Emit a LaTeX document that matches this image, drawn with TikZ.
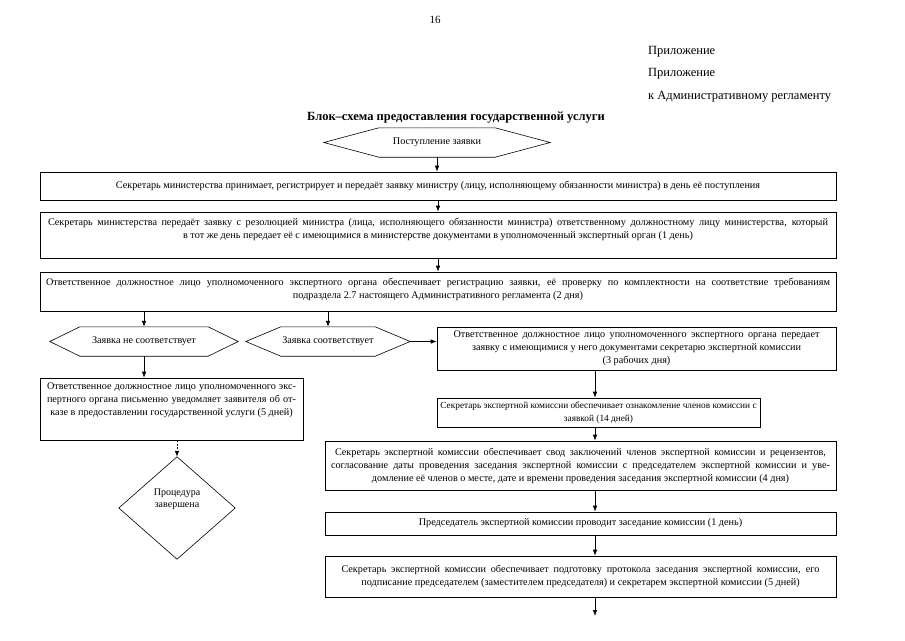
\documentclass[tikz,border=0pt]{standalone}
\usepackage{fontspec}
\setmainfont{Liberation Serif}
\usetikzlibrary{arrows.meta}
\newcommand{\jline}[2]{\makebox[#1pt][s]{#2}}
\begin{document}
\begin{tikzpicture}[x=1pt,y=-1pt,
  box/.style={draw, line width=0.6pt, inner sep=0pt},
  txt/.style={font=\fontsize{10.2}{13}\selectfont, align=center, inner sep=0pt},
  hdr/.style={font=\fontsize{12.5}{15}\selectfont, inner sep=0pt},
  ghost/.style={inner sep=0pt},
  hexline/.style={line width=0.6pt},
  arr/.style={-{Latex[length=6pt,width=4.5pt]}, line width=0.7pt},
  darr/.style={-{Latex[length=6pt,width=4.5pt]}, line width=0.7pt, dash pattern=on 2pt off 1.5pt}]
\useasboundingbox[fill=white] (0,0) rectangle (905,640);

% header
\node[hdr, font=\fontsize{11}{13}\selectfont] (pg) at (435,20) {16};
\node[hdr, anchor=base west] (pr1) at (648,54) {Приложение};
\node[hdr, anchor=base west] (pr2) at (648,76) {Приложение};
\node[hdr, anchor=base west] (pr3) at (648,99) {к Административному регламенту};
\node[hdr, font=\bfseries\fontsize{12.5}{15}\selectfont, anchor=base] (title) at (456,120) {Блок–схема предоставления государственной услуги};

% start hexagon
\node[ghost, minimum width=226pt, minimum height=29pt] (h0) at (437,142.5) {};
\draw[hexline] (h0.west) -- ([xshift=55pt]h0.north west) -- ([xshift=-55pt]h0.north east) -- (h0.east)
  -- ([xshift=-55pt]h0.south east) -- ([xshift=55pt]h0.south west) -- cycle;
\node[txt] (h0t) at (h0) {Поступление заявки};

% box 1
\node[box, minimum width=796pt, minimum height=28pt] (b1) at (438,186) {};
\node[txt] (b1t) at (b1) {Секретарь министерства принимает, регистрирует и передаёт заявку министру (лицу, исполняющему обязанности министра) в день её поступления};

% box 2
\node[box, minimum width=796pt, minimum height=46pt] (b2) at (438,235) {};
\node[txt, anchor=north] (b2t) at ([yshift=-6pt]b2.north) {\jline{780}{Секретарь министерства передаёт заявку с резолюцией министра (лица, исполняющего обязанности министра) ответственному должностному лицу министерства, который}\\
в тот же день передает её с имеющимися в министерстве документами в уполномоченный экспертный орган (1 день)};

% box 3
\node[box, minimum width=796pt, minimum height=39pt] (b3) at (438,291.5) {};
\node[txt, anchor=north] (b3t) at ([yshift=-6pt]b3.north) {\jline{784}{Ответственное должностное лицо уполномоченного экспертного органа обеспечивает регистрацию заявки, её проверку по комплектности на соответствие требованиям}\\
подраздела 2.7 настоящего Административного регламента (2 дня)};

% hexagon: not matching
\node[ghost, minimum width=188pt, minimum height=29pt] (h1) at (144,341.5) {};
\draw[hexline] (h1.west) -- ([xshift=30pt]h1.north west) -- ([xshift=-30pt]h1.north east) -- (h1.east)
  -- ([xshift=-30pt]h1.south east) -- ([xshift=30pt]h1.south west) -- cycle;
\node[txt] (h1t) at (h1) {Заявка не соответствует};

% hexagon: matching
\node[ghost, minimum width=164pt, minimum height=29pt] (h2) at (328,341.5) {};
\draw[hexline] (h2.west) -- ([xshift=35pt]h2.north west) -- ([xshift=-35pt]h2.north east) -- (h2.east)
  -- ([xshift=-35pt]h2.south east) -- ([xshift=35pt]h2.south west) -- cycle;
\node[txt] (h2t) at (h2) {Заявка соответствует};

% box 4
\node[box, minimum width=399pt, minimum height=43pt] (b4) at (636.5,348.5) {};
\node[txt] (b4t) at (b4) {\jline{366}{Ответственное должностное лицо уполномоченного экспертного органа передает}\\
заявку с имеющимися у него документами секретарю экспертной комиссии\\
(3 рабочих дня)};

% box 5
\node[box, minimum width=323pt, minimum height=29pt] (b5) at (598.5,412.5) {};
\node[txt, font=\fontsize{9.3}{13}\selectfont] (b5t) at (b5) {Секретарь экспертной комиссии обеспечивает ознакомление членов комиссии с\\
заявкой (14 дней)};

% box 6
\node[box, minimum width=511pt, minimum height=49pt] (b6) at (580.5,465.5) {};
\node[txt] (b6t) at (b6) {\jline{491}{Секретарь экспертной комиссии обеспечивает свод заключений членов экспертной комиссии и рецензентов,}\\
\jline{499}{согласование даты проведения заседания экспертной комиссии с председателем экспертной комиссии и уве-}\\
домление её членов о месте, дате и времени проведения заседания экспертной комиссии (4 дня)};

% box 7
\node[box, minimum width=511pt, minimum height=23pt] (b7) at (580.5,523.5) {};
\node[txt] (b7t) at (b7) {Председатель экспертной комиссии проводит заседание комиссии (1 день)};

% box 8
\node[box, minimum width=511pt, minimum height=41pt] (b8) at (580.5,576.5) {};
\node[txt] (b8t) at (b8) {\jline{478}{Секретарь экспертной комиссии обеспечивает подготовку протокола заседания экспертной комиссии, его}\\
подписание председателем (заместителем председателя) и секретарем экспертной комиссии (5 дней)};

% box 9
\node[box, minimum width=263pt, minimum height=62pt] (b9) at (171.5,409) {};
\node[txt, anchor=north] (b9t) at ([yshift=-5pt]b9.north) {\jline{249}{Ответственное должностное лицо уполномоченного экс-}\\
\jline{249}{пертного органа письменно уведомляет заявителя об от-}\\
казе в предоставлении государственной услуги (5 дней)};

% diamond
\node[ghost, minimum width=116pt, minimum height=102pt] (dm) at (177,508) {};
\draw[hexline] (dm.north) -- (dm.east) -- (dm.south) -- (dm.west) -- cycle;
\node[txt, font=\fontsize{10}{12}\selectfont] (dmt) at ([yshift=9pt]dm.center) {Процедура\\завершена};

\coordinate (col) at (595,0);
\coordinate (endpt) at (595,616);

% connectors
\draw[arr] (h0.south) -- (h0.south |- b1.north);
\draw[arr] (b1.south) -- (b2.north);
\draw[arr] (b2.south) -- (b3.north);
\draw[arr] (b3.south -| h1.north) -- (h1.north);
\draw[arr] (b3.south -| h2.north) -- (h2.north);
\draw[arr] (h2.east) -- (h2.east -| b4.west);
\draw[arr] (b4.south -| col) -- (b5.north -| col);
\draw[arr] (b5.south -| col) -- (b6.north -| col);
\draw[arr] (b6.south -| col) -- (b7.north -| col);
\draw[arr] (b7.south -| col) -- (b8.north -| col);
\draw[arr] (b8.south -| endpt) -- (endpt);
\draw[arr] (h1.south) -- (h1.south |- b9.north);
\draw[darr] (b9.south -| dm.north) -- (dm.north);
\end{tikzpicture}
\end{document}
